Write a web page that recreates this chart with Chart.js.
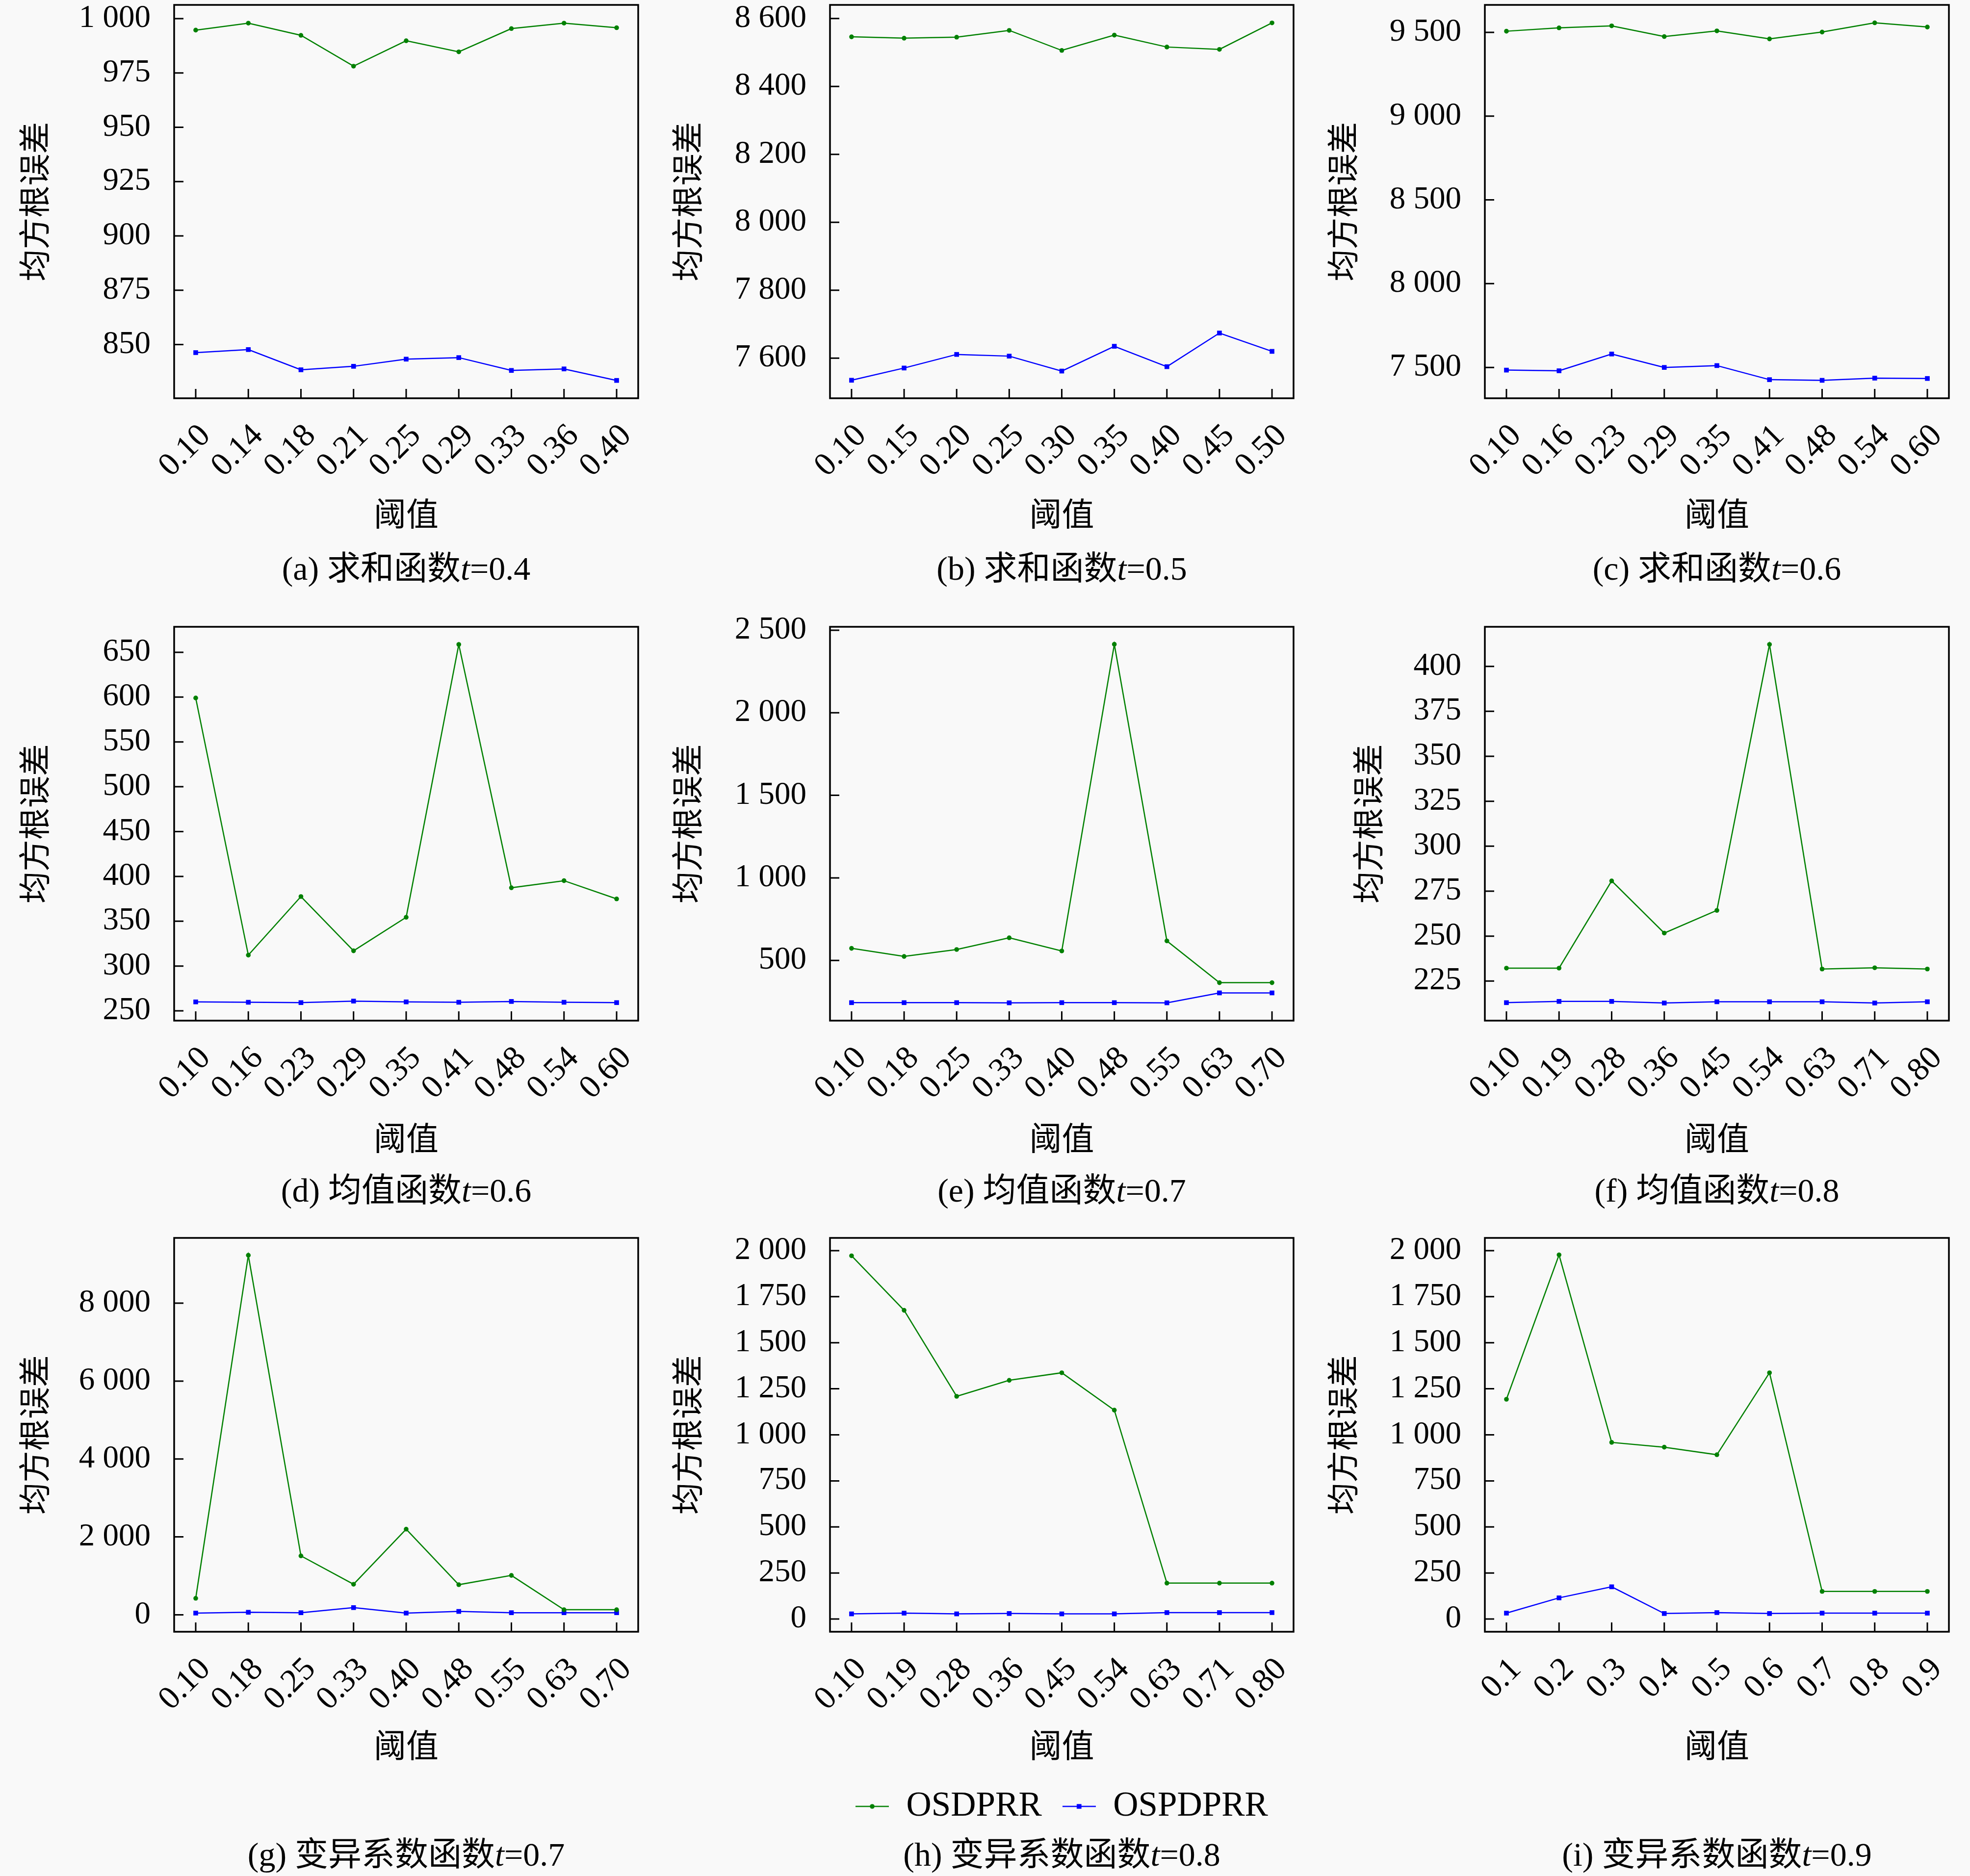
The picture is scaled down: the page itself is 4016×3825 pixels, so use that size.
<!DOCTYPE html>
<html>
<head>
<meta charset="utf-8">
<script src="https://cdn.jsdelivr.net/npm/chart.js@4.4.1/dist/chart.umd.min.js"></script>
<style>
html, body { margin: 0; padding: 0; background: #f9f9f9; }
#wrap { position: relative; width: 4016px; height: 3825px; background: #f9f9f9; overflow: hidden; }
#wrap canvas { position: absolute; }
</style>
</head>
<body>
<div id="wrap"></div>
<script>
// ---------------- DATA ----------------
const seriesNames = ['OSDPRR', 'OSPDPRR'];
const yAxisTitle = '均方根误差';
const xAxisTitle = '阈值';

const xLabelsA = ['0.10', '0.14', '0.18', '0.21', '0.25', '0.29', '0.33', '0.36', '0.40'];
const xLabelsB = ['0.10', '0.15', '0.20', '0.25', '0.30', '0.35', '0.40', '0.45', '0.50'];
const xLabelsC = ['0.10', '0.16', '0.23', '0.29', '0.35', '0.41', '0.48', '0.54', '0.60'];
const xLabelsD = ['0.10', '0.16', '0.23', '0.29', '0.35', '0.41', '0.48', '0.54', '0.60'];
const xLabelsE = ['0.10', '0.18', '0.25', '0.33', '0.40', '0.48', '0.55', '0.63', '0.70'];
const xLabelsF = ['0.10', '0.19', '0.28', '0.36', '0.45', '0.54', '0.63', '0.71', '0.80'];
const xLabelsG = ['0.10', '0.18', '0.25', '0.33', '0.40', '0.48', '0.55', '0.63', '0.70'];
const xLabelsH = ['0.10', '0.19', '0.28', '0.36', '0.45', '0.54', '0.63', '0.71', '0.80'];
const xLabelsI = ['0.1', '0.2', '0.3', '0.4', '0.5', '0.6', '0.7', '0.8', '0.9'];

const osdprrA  = [994.7, 997.9, 992.3, 978.1, 989.8, 984.7, 995.4, 997.9, 995.8];
const ospdprrA = [846.3, 847.7, 838.4, 840.0, 843.3, 844.0, 838.1, 838.8, 833.5];
const osdprrB  = [8546, 8542, 8545, 8565, 8506, 8551, 8516, 8509, 8587];
const ospdprrB = [7535, 7571, 7611, 7606, 7562, 7635, 7575, 7674, 7620];
const osdprrC  = [9507, 9527, 9539, 9475, 9509, 9461, 9502, 9557, 9532];
const ospdprrC = [7484, 7480, 7580, 7500, 7511, 7427, 7423, 7436, 7434];
const osdprrD  = [599.0, 312.2, 377.5, 317.0, 354.4, 658.7, 387.3, 395.2, 374.9];
const ospdprrD = [260.0, 259.6, 259.2, 260.9, 260.0, 259.6, 260.5, 259.6, 259.2];
const osdprrE  = [573, 524, 566, 637, 557, 2415, 618, 365, 365];
const ospdprrE = [244, 244, 244, 243, 244, 244, 243, 303, 303];
const osdprrF  = [232.2, 232.2, 280.7, 251.7, 264.3, 412.2, 231.7, 232.4, 231.7];
const ospdprrF = [213.0, 213.7, 213.7, 212.8, 213.5, 213.5, 213.5, 212.8, 213.5];
const osdprrG  = [424, 9230, 1513, 784, 2199, 773, 1012, 131, 131];
const ospdprrG = [44, 65, 54, 185, 44, 87, 54, 54, 54];
const osdprrH  = [1972, 1676, 1209, 1296, 1337, 1134, 195, 195, 195];
const ospdprrH = [28, 32, 28, 30, 28, 28, 35, 35, 35];
const osdprrI  = [1193, 1977, 959, 933, 892, 1337, 150, 150, 150];
const ospdprrI = [32, 115, 175, 30, 35, 30, 32, 32, 32];

const yTicksA = [850, 875, 900, 925, 950, 975, 1000];
const yTicksB = [7600, 7800, 8000, 8200, 8400, 8600];
const yTicksC = [7500, 8000, 8500, 9000, 9500];
const yTicksD = [250, 300, 350, 400, 450, 500, 550, 600, 650];
const yTicksE = [500, 1000, 1500, 2000, 2500];
const yTicksF = [225, 250, 275, 300, 325, 350, 375, 400];
const yTicksG = [0, 2000, 4000, 6000, 8000];
const yTicksH = [0, 250, 500, 750, 1000, 1250, 1500, 1750, 2000];
const yTicksI = [0, 250, 500, 750, 1000, 1250, 1500, 1750, 2000];

const yRangeA = [825.3, 1006.3];
const yRangeB = [7482, 8640];
const yRangeC = [7316, 9664];
const yRangeD = [239.1, 678.4];
const yRangeE = [135, 2521];
const yRangeF = [203.0, 422.0];
const yRangeG = [-435, 9676];
const yRangeH = [-69, 2069];
const yRangeI = [-69, 2069];

const captionNames = ['(a) 求和函数', '(b) 求和函数', '(c) 求和函数', '(d) 均值函数', '(e) 均值函数',
                      '(f) 均值函数', '(g) 变异系数函数', '(h) 变异系数函数', '(i) 变异系数函数'];
const captionT = ['0.4', '0.5', '0.6', '0.6', '0.7', '0.8', '0.7', '0.8', '0.9'];

// ---------------- LAYOUT / STYLE ----------------
const FAM = '"Liberation Serif", "Noto Sans CJK SC", serif';
const GREEN = '#008000';
const BLUE = '#0000ff';
const COLS = [
  { x0: 0,    x1: 1340, L: 355,  R: 1301 },
  { x0: 1340, x1: 2676, L: 1692, R: 2637 },
  { x0: 2676, x1: 4016, L: 3027, R: 3973 }
];
const ROWS = [
  { y0: 0,    y1: 1220, T: 10,   B: 812,  titleC: 1055, capC: 1164 },
  { y0: 1220, y1: 2470, T: 1278, B: 2081, titleC: 2328, capC: 2432 },
  { y0: 2470, y1: 3825, T: 2524, B: 3327, titleC: 3566, capC: 3786 }
];
const yTitleCenters = [77, 68, 68, 77, 68, 120, 77, 68, 68];
const TICK_LEN = 19;

const panels = [
  [xLabelsA, osdprrA, ospdprrA, yTicksA, yRangeA],
  [xLabelsB, osdprrB, ospdprrB, yTicksB, yRangeB],
  [xLabelsC, osdprrC, ospdprrC, yTicksC, yRangeC],
  [xLabelsD, osdprrD, ospdprrD, yTicksD, yRangeD],
  [xLabelsE, osdprrE, ospdprrE, yTicksE, yRangeE],
  [xLabelsF, osdprrF, ospdprrF, yTicksF, yRangeF],
  [xLabelsG, osdprrG, ospdprrG, yTicksG, yRangeG],
  [xLabelsH, osdprrH, ospdprrH, yTicksH, yRangeH],
  [xLabelsI, osdprrI, ospdprrI, yTicksI, yRangeI]
];

function fmtNum(v) {
  if (Math.abs(v) >= 1000) {
    const th = Math.floor(v / 1000);
    const rest = String(Math.round(v - th * 1000)).padStart(3, '0');
    return th + ' ' + rest;
  }
  return String(v);
}

function legendGlyph(color, style) {
  const c = document.createElement('canvas');
  c.width = 68; c.height = 16;
  const g = c.getContext('2d');
  g.strokeStyle = color; g.lineWidth = 2.5;
  g.beginPath(); g.moveTo(0, 8); g.lineTo(68, 8); g.stroke();
  g.fillStyle = color;
  if (style === 'circle') { g.beginPath(); g.arc(34, 8, 4.8, 0, Math.PI * 2); g.fill(); }
  else { g.fillRect(34 - 4.8, 8 - 4.8, 9.6, 9.6); }
  return c;
}

const framePlugin = {
  id: 'frame',
  afterDraw(chart, args, opts) {
    const { ctx, chartArea: a } = chart;
    const x = chart.scales.x, y = chart.scales.y;
    ctx.save();
    ctx.strokeStyle = '#000';
    ctx.lineWidth = 3;
    ctx.beginPath();
    x.ticks.forEach(t => {
      const px = x.getPixelForValue(t.value);
      ctx.moveTo(px, a.bottom); ctx.lineTo(px, a.bottom - TICK_LEN);
    });
    y.ticks.forEach(t => {
      const py = y.getPixelForValue(t.value);
      ctx.moveTo(a.left, py); ctx.lineTo(a.left + TICK_LEN, py);
    });
    ctx.stroke();
    ctx.lineWidth = 3.5;
    ctx.strokeRect(a.left, a.top, a.right - a.left, a.bottom - a.top);
    // caption
    const segs = [[opts.name, 'normal'], ['t', 'italic'], ['=' + opts.t, 'normal']];
    ctx.fillStyle = '#000';
    ctx.textBaseline = 'middle';
    ctx.textAlign = 'left';
    let total = 0;
    segs.forEach(s => { ctx.font = s[1] + ' 68px ' + FAM; s.push(ctx.measureText(s[0]).width); total += s[2]; });
    let cx = (a.left + a.right) / 2 - total / 2;
    segs.forEach(s => { ctx.font = s[1] + ' 68px ' + FAM; ctx.fillText(s[0], cx, opts.capY); cx += s[2]; });
    ctx.restore();
  }
};

function makeChart(idx) {
  const [xl, g, b, yt, yr] = panels[idx];
  const col = COLS[idx % 3], row = ROWS[Math.floor(idx / 3)];
  const W = col.x1 - col.x0, H = row.y1 - row.y0;
  const cv = document.createElement('canvas');
  cv.width = W; cv.height = H;
  cv.style.left = col.x0 + 'px'; cv.style.top = row.y0 + 'px';
  cv.style.width = W + 'px'; cv.style.height = H + 'px';
  document.getElementById('wrap').appendChild(cv);

  const xTitleLH = 66 * 1.2;
  const yTitleLH = 65 * 1.2;
  const xAxisH = row.titleC - row.B + xTitleLH / 2;
  const padBottom = H - (row.B - row.y0) - xAxisH;
  const isLegend = idx === 7;

  const chart = new Chart(cv, {
    type: 'line',
    data: {
      datasets: [
        { label: seriesNames[0], data: g.map((v, i) => ({ x: i, y: v })), borderColor: GREEN, backgroundColor: GREEN,
          borderWidth: 2.5, pointStyle: 'circle', pointRadius: 4.8, pointBorderWidth: 0, tension: 0, fill: false },
        { label: seriesNames[1], data: b.map((v, i) => ({ x: i, y: v })), borderColor: BLUE, backgroundColor: BLUE,
          borderWidth: 2.5, pointStyle: 'rect', pointRadius: 6.8, pointBorderWidth: 0, tension: 0, fill: false }
      ]
    },
    options: {
      responsive: false,
      animation: false,
      devicePixelRatio: 1,
      layout: { padding: { left: 0, top: row.T - row.y0, right: col.x1 - col.R, bottom: padBottom } },
      plugins: {
        legend: isLegend ? {
          display: true, position: 'bottom', fullSize: false, align: 'center',
          labels: {
            usePointStyle: true, pointStyleWidth: 68, padding: 42, color: '#000',
            font: { family: FAM, size: 71, lineHeight: 1.2 },
            generateLabels: () => [
              { text: seriesNames[0], pointStyle: legendGlyph(GREEN, 'circle'), fillStyle: GREEN, strokeStyle: GREEN, lineWidth: 0, datasetIndex: 0, hidden: false, fontColor: '#000' },
              { text: seriesNames[1], pointStyle: legendGlyph(BLUE, 'rect'), fillStyle: BLUE, strokeStyle: BLUE, lineWidth: 0, datasetIndex: 1, hidden: false, fontColor: '#000' }
            ]
          }
        } : { display: false },
        tooltip: { enabled: false },
        frame: { name: captionNames[idx], t: captionT[idx], capY: row.capC - row.y0 }
      },
      scales: {
        x: {
          type: 'linear', min: -0.41, max: xl.length - 1 + 0.41, bounds: 'data',
          afterBuildTicks: s => { s.ticks = xl.map((_, i) => ({ value: i })); },
          afterFit: s => { s.height = xAxisH; s.paddingLeft = 0; s.paddingRight = 0; },
          ticks: { autoSkip: false, minRotation: 45, maxRotation: 45, padding: 0, labelOffset: 20, color: '#000',
                   font: { family: FAM, size: 67, lineHeight: 1.2 },
                   callback: (v, i) => xl[i] },
          grid: { display: true, drawOnChartArea: false, drawTicks: true, tickLength: 38, color: 'rgba(0,0,0,0)' },
          border: { display: false },
          title: { display: true, text: xAxisTitle, color: '#000', padding: { top: 0, bottom: 0 },
                   font: { family: FAM, size: 66, lineHeight: 1.2 } }
        },
        y: {
          type: 'linear', min: yr[0], max: yr[1], bounds: 'data',
          afterBuildTicks: s => { s.ticks = yt.map(v => ({ value: v })); },
          afterFit: s => { s.width = col.L - col.x0; s.paddingTop = 0; s.paddingBottom = 0; },
          ticks: { padding: 3, color: '#000', font: { family: FAM, size: 65, lineHeight: 1.2 },
                   callback: v => fmtNum(v) },
          grid: { display: true, drawOnChartArea: false, drawTicks: true, tickLength: 45, color: 'rgba(0,0,0,0)' },
          border: { display: false },
          title: { display: true, text: yAxisTitle, color: '#000',
                   padding: { top: yTitleCenters[idx] - yTitleLH / 2, bottom: 0 },
                   font: { family: FAM, size: 65, lineHeight: 1.2 } }
        }
      }
    },
    plugins: [framePlugin]
  });

  if (isLegend) {
    const lh = chart.legend.height;
    chart.options.layout.padding.bottom = padBottom - lh;
    chart.update();
  }
  return chart;
}

function drawAll() { for (let i = 0; i < panels.length; i++) makeChart(i); }

const fontLoads = [
  document.fonts.load('64px "Liberation Serif"'),
  document.fonts.load('italic 68px "Liberation Serif"'),
  document.fonts.load('65px "Noto Sans CJK SC"', '均方根误差阈值求和函数变异系')
];
Promise.race([Promise.all(fontLoads), new Promise(r => setTimeout(r, 1500))]).then(drawAll, drawAll);
</script>
</body>
</html>
